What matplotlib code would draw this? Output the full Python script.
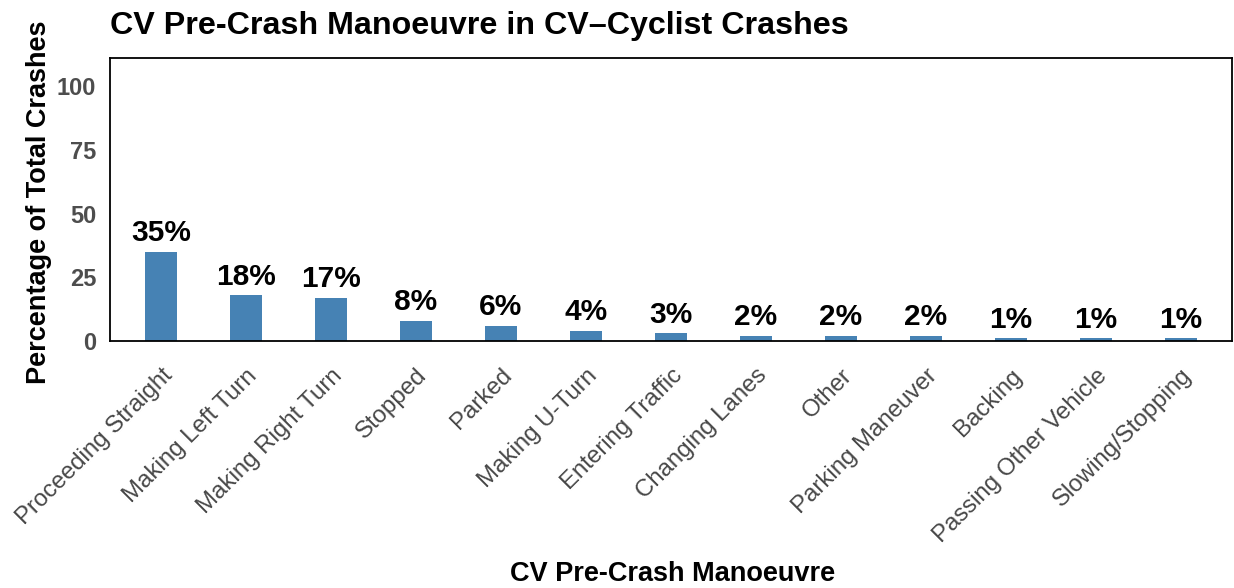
import matplotlib
matplotlib.use("Agg")
import matplotlib.pyplot as plt
import matplotlib.transforms as mtransforms

categories = ["Proceeding Straight", "Making Left Turn", "Making Right Turn", "Stopped",
              "Parked", "Making U-Turn", "Entering Traffic", "Changing Lanes", "Other",
              "Parking Maneuver", "Backing", "Passing Other Vehicle", "Slowing/Stopping"]
values = [35, 18, 17, 8, 6, 4, 3, 2, 2, 2, 1, 1, 1]
yticks = [0, 25, 50, 75, 100]

plt.rcParams['font.family'] = ['Liberation Sans', 'DejaVu Sans']

fig = plt.figure(figsize=(12.34, 5.88), dpi=100)
ax = fig.add_axes([110/1234, 1-341/588, (1232-110)/1234, (341-58)/588])

x = list(range(len(categories)))
ax.bar(x, values, width=0.38, color='#4682B4')
for xi, v in zip(x, values):
    ax.text(xi, v + 1.8, f"{v}%", ha='center', va='bottom', fontsize=21.5,
            fontweight='bold', color='black')

ax.set_xlim(-0.6, 12.6)
ax.set_ylim(0, 111)
ax.set_yticks(yticks)
ax.set_yticklabels([str(t) for t in yticks], fontsize=17, fontweight='bold', color='#4d4d4d')
ax.set_xticks(x)
ax.set_xticklabels(categories, rotation=45, ha='right', va='top', rotation_mode='anchor',
                   fontsize=17.3, color='#474747')
offset = mtransforms.ScaledTranslation(14/100, 0, fig.dpi_scale_trans)
for lab in ax.get_xticklabels():
    lab.set_transform(lab.get_transform() + offset)
ax.tick_params(axis='both', length=0)
ax.tick_params(axis='y', pad=10)
ax.tick_params(axis='x', pad=17)
for s in ax.spines.values():
    s.set_linewidth(1.3)
    s.set_color('black')

ax.set_ylabel("Percentage of Total Crashes", fontsize=19.5, fontweight='bold')
ax.set_xlabel("CV Pre-Crash Manoeuvre", fontsize=19.5, fontweight='bold')
ax.xaxis.set_label_coords((673 - 110) / 1122, -(561 - 341) / 283)
ax.yaxis.set_label_coords(-(110 - 52) / 1122, (341 - 202) / 283)
fig.text(110/1234, 1-26/588, "CV Pre-Crash Manoeuvre in CV\u2013Cyclist Crashes",
         fontsize=23.2, fontweight='bold', ha='left', va='center')

fig.savefig("out.png", dpi=100)
